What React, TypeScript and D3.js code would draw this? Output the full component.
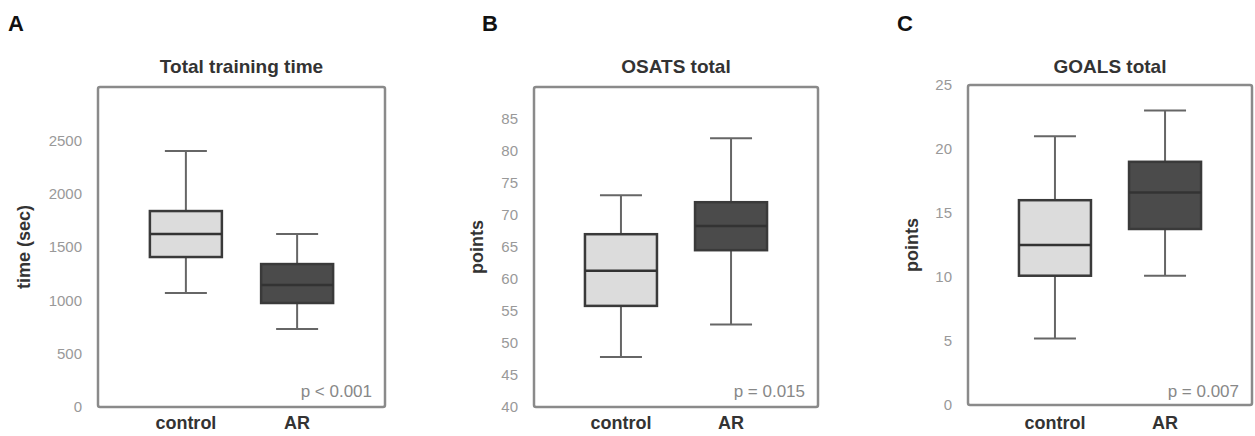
import * as d3 from 'd3'

// groups
const categories = ['control', 'AR']

// box stats: [lower whisker, q1, median, q3, upper whisker]
const timeControl = [1069, 1406, 1622, 1837, 2400]
const timeAR = [731, 975, 1144, 1340, 1622]
const osatsControl = [47.8, 55.8, 61.3, 67.0, 73.1]
const osatsAR = [52.9, 64.5, 68.3, 72.0, 82.0]
const goalsControl = [5.2, 10.1, 12.5, 16.0, 21.0]
const goalsAR = [10.1, 13.75, 16.6, 19.0, 23.0]

const timeTicks = [0, 500, 1000, 1500, 2000, 2500]
const osatsTicks = [40, 45, 50, 55, 60, 65, 70, 75, 80, 85]
const goalsTicks = [0, 5, 10, 15, 20, 25]

const fills = ['#dcdcdc', '#4b4b4b']
const font = 'Arial, "Liberation Sans", sans-serif'

interface PanelProps {
  letter: string
  letterX: number
  title: string
  yLabel: string
  stats: number[][]
  domain: [number, number]
  ticks: number[]
  pText: string
  left: number
  right: number
  top: number
  bottom: number
  yLabelOffset: number
}

function Panel({ letter, letterX, title, yLabel, stats, domain, ticks, pText, left, right, top, bottom, yLabelOffset }: PanelProps) {
  const y = d3.scaleLinear().domain(domain).range([bottom, top])
  const x = d3.scalePoint<string>().domain(categories).range([left, right]).padding(0.79)
  const boxW = 72
  const capW = 42
  const midX = (left + right) / 2

  return (
    <g fontFamily={font}>
      <text x={letterX} y={31} fontSize={22} fontWeight="bold" fill="#111">{letter}</text>
      <text x={midX} y={73} fontSize={19} fontWeight="bold" fill="#333" textAnchor="middle">{title}</text>
      <text
        transform={`translate(${left - yLabelOffset},${(top + bottom) / 2}) rotate(-90)`}
        fontSize={18}
        fontWeight="bold"
        fill="#333"
        textAnchor="middle"
      >{yLabel}</text>
      {ticks.map(t => (
        <text key={t} x={left - 16} y={y(t)} dy="0.35em" fontSize={15} fill="#999" textAnchor="end">{t}</text>
      ))}
      <rect x={left} y={top} width={right - left} height={bottom - top} rx={2} fill="none" stroke="#8a8a8a" strokeWidth={2.5} />
      {categories.map((c, i) => {
        const [lo, q1, med, q3, hi] = stats[i]
        const cx = x(c)!
        return (
          <g key={c}>
            <line x1={cx} x2={cx} y1={y(hi)} y2={y(q3)} stroke="#666" strokeWidth={2} />
            <line x1={cx} x2={cx} y1={y(q1)} y2={y(lo)} stroke="#666" strokeWidth={2} />
            <line x1={cx - capW / 2} x2={cx + capW / 2} y1={y(hi)} y2={y(hi)} stroke="#666" strokeWidth={2} />
            <line x1={cx - capW / 2} x2={cx + capW / 2} y1={y(lo)} y2={y(lo)} stroke="#666" strokeWidth={2} />
            <rect x={cx - boxW / 2} y={y(q3)} width={boxW} height={y(q1) - y(q3)} fill={fills[i]} stroke="#3a3a3a" strokeWidth={2.5} />
            <line x1={cx - boxW / 2} x2={cx + boxW / 2} y1={y(med)} y2={y(med)} stroke="#333" strokeWidth={2.5} />
            <text x={cx} y={429} fontSize={18} fontWeight="bold" fill="#333" textAnchor="middle">{c}</text>
          </g>
        )
      })}
      <text x={right - 13} y={397} fontSize={17} fill="#888" textAnchor="end">{pText}</text>
    </g>
  )
}

export default function App() {
  return (
    <svg width={1255} height={436} style={{ position: 'absolute', left: 0, top: 0, background: '#fff' }}>
      <Panel
        letter="A" letterX={8} title="Total training time" yLabel="time (sec)"
        stats={[timeControl, timeAR]} domain={[0, 3000]} ticks={timeTicks} pText="p < 0.001"
        left={98} right={385} top={87} bottom={407} yLabelOffset={68}
      />
      <Panel
        letter="B" letterX={482} title="OSATS total" yLabel="points"
        stats={[osatsControl, osatsAR]} domain={[40, 90]} ticks={osatsTicks} pText="p = 0.015"
        left={534} right={818} top={87} bottom={407} yLabelOffset={51}
      />
      <Panel
        letter="C" letterX={897} title="GOALS total" yLabel="points"
        stats={[goalsControl, goalsAR]} domain={[0, 25]} ticks={goalsTicks} pText="p = 0.007"
        left={968} right={1252} top={85} bottom={405} yLabelOffset={50}
      />
    </svg>
  )
}
